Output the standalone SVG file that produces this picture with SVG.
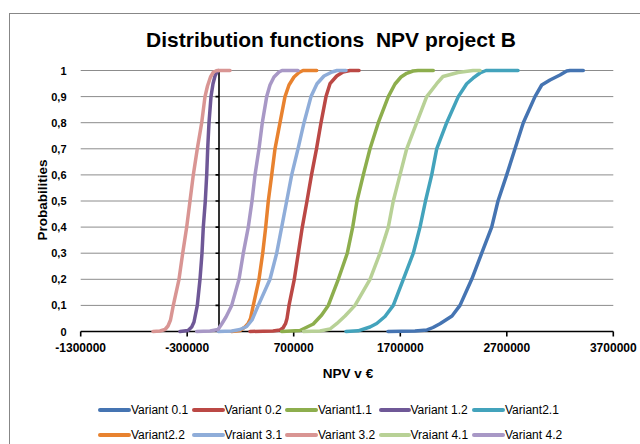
<svg xmlns="http://www.w3.org/2000/svg" width="640" height="444" viewBox="0 0 640 444">
<style>
.frame{fill:#fff;stroke:#878787;stroke-width:1}
.grid{stroke:#8c8c8c;stroke-width:1;fill:none}
.axis{stroke:#000;stroke-width:1.6;fill:none}
.s{fill:none;stroke-width:3.5;stroke-linejoin:round;stroke-linecap:round}
.lg{fill:none;stroke-width:4;stroke-linecap:round}
.t{font-family:"Liberation Sans",Arial,sans-serif;fill:#000}
.b{font-weight:bold}
.yl{font-size:11px;text-anchor:end;font-weight:bold}
.xl{font-size:12px;text-anchor:middle;font-weight:bold}
.lt{font-size:12px}
.c01{stroke:#4574B2}.c02{stroke:#BB4845}.c11{stroke:#8DAE4D}.c12{stroke:#6F5897}.c21{stroke:#43A3BC}
.c22{stroke:#E8822F}.c31{stroke:#8FADD9}.c32{stroke:#D99593}.c41{stroke:#B8D196}.c42{stroke:#A898C6}
</style>
<rect class="frame" x="9.5" y="13.5" width="640" height="440"/>
<text class="t b" x="331" y="47" font-size="21" text-anchor="middle" xml:space="preserve">Distribution functions  NPV project B</text>
<g id="gridlines">
<path class="grid" d="M80.7 70.5H613.3M80.7 96.6H613.3M80.7 122.7H613.3M80.7 148.8H613.3M80.7 174.9H613.3M80.7 201H613.3M80.7 227.1H613.3M80.7 253.2H613.3M80.7 279.3H613.3M80.7 305.4H613.3"/>
</g>
<g id="axes">
<path class="axis" d="M219 70.5V331.5M80.7 331.5H613.3"/>
<path class="axis" stroke-width="1.2" d="M215.5 70.5H219M215.5 96.6H219M215.5 122.7H219M215.5 148.8H219M215.5 174.9H219M215.5 201H219M215.5 227.1H219M215.5 253.2H219M215.5 279.3H219M215.5 305.4H219M80.7 331.5V336.5M187.2 331.5V336.5M293.7 331.5V336.5M400.3 331.5V336.5M506.8 331.5V336.5M613.3 331.5V336.5"/>
</g>
<g id="y-labels" class="t yl">
<text x="66.5" y="74.5">1</text>
<text x="66.5" y="100.6">0,9</text>
<text x="66.5" y="126.7">0,8</text>
<text x="66.5" y="152.8">0,7</text>
<text x="66.5" y="178.9">0,6</text>
<text x="66.5" y="205">0,5</text>
<text x="66.5" y="231.1">0,4</text>
<text x="66.5" y="257.2">0,3</text>
<text x="66.5" y="283.3">0,2</text>
<text x="66.5" y="309.4">0,1</text>
<text x="66.5" y="335.5">0</text>
</g>
<g id="x-labels" class="t xl">
<text x="80.7" y="352">-1300000</text>
<text x="187.2" y="352">-300000</text>
<text x="293.7" y="352">700000</text>
<text x="400.3" y="352">1700000</text>
<text x="506.8" y="352">2700000</text>
<text x="613.3" y="352">3700000</text>
</g>
<text class="t b" x="46.5" y="200" font-size="13.5" text-anchor="middle" transform="rotate(-90 46.5 200)">Probabilities</text>
<text class="t b" x="348" y="377.5" font-size="13.5" text-anchor="middle">NPV v €</text>
<g id="series">
<polyline id="v01" class="s c01" points="388,331.5 415,331 427,329.9 433,327.5 440,323.7 452,316 460,305.4 471.7,279.3 481.7,253.2 491.7,227.1 498,201 506.7,174.9 515,148.8 523.3,122.7 535,96.6 541.7,85 550,80 560,75 566.7,71 570,70.5 583.3,70.5"/>
<polyline id="v02" class="s c02" points="250,331.5 273,331 280,330 283,328 285.5,323.7 287,318.5 289,305.4 294.3,279.3 298.3,253.2 302.3,227.1 307,201 311.5,174.9 316.5,148.8 321,122.7 326,96.6 330,83.7 336.7,76 343,72 350,70.5 359,70.5"/>
<polyline id="v11" class="s c11" points="281.7,331.5 300,330.5 313.3,324 321.7,315 328.3,305.4 338.3,279.3 347.3,253.2 352.7,227.1 357,201 363.3,174.9 370,148.8 378.3,122.7 388.3,96.6 395,84 401,77 406.7,73.3 413,71 418,70.5 433.3,70.5"/>
<polyline id="v12" class="s c12" points="180,331.5 188,330.5 191.7,327 194,322 197.3,305.4 200,279.3 202,253.2 203.3,227.1 205.3,201 206.7,174.9 207.7,148.8 209,122.7 211,96.6 213,83.7 215,76 217,72 218.5,70.5"/>
<polyline id="v21" class="s c21" points="346,331.5 358,330.8 370,327 376.7,323.5 385,316.5 393.3,305.4 403.3,279.3 413.3,253.2 420,227.1 425.5,201 431.7,174.9 436.7,148.8 446.7,122.7 458.3,96.6 466.7,83.7 473,78.2 480,73 486,70.5 518,70.5"/>
<polyline id="v22" class="s c22" points="231.7,331.5 240,330.5 245,327 248,323.7 250.5,318.5 253.3,305.4 259,279.3 262.7,253.2 265.7,227.1 268.3,201 271.7,174.9 275,148.8 280,122.7 285,96.6 289,85 294,77 299,72.5 303,70.5 316.7,70.5"/>
<polyline id="v31" class="s c31" points="218.3,331.5 232,331 240,329.5 246.7,326.5 252,320 258.3,305.4 270,279.3 276.7,253.2 281.7,227.1 286.7,201 291.7,174.9 298,148.8 304,122.7 311,96.6 317,83.7 324,76 332,72 337,70.5 346,70.5"/>
<polyline id="v32" class="s c32" points="153,331.5 160,331 165,329.5 168,326 170.5,320 173.3,305.4 179,279.3 182.7,253.2 186.7,227.1 190,201 193.3,174.9 197.3,148.8 201.7,122.7 205,96.6 207.5,86 210.5,77 213.5,72 217,70.5 230,70.5"/>
<polyline id="v41" class="s c41" points="303.3,331.5 320,331 330,329 336.7,323.7 345,316 355,305.4 370,279.3 380,253.2 388.3,227.1 393.3,201 400,174.9 406.7,148.8 416.7,122.7 426.7,96.6 436.7,83.7 443,76.5 458,72.5 473,70.5 480,70.5"/>
<polyline id="v42" class="s c42" points="196.7,331.5 210,331 218,329.5 221.7,324 226,317 231.7,305.4 239,279.3 243.3,253.2 248.3,227.1 252,201 255,174.9 259,148.8 262.3,122.7 266.7,96.6 270,85 274,77 279,72 282,70.5 298,70.5"/>
</g>
<g id="legend">
<path class="lg c01" d="M100 410H129"/><text class="t lt" x="131" y="414">Variant 0.1</text>
<path class="lg c02" d="M194 410H223"/><text class="t lt" x="224.5" y="414">Variant 0.2</text>
<path class="lg c11" d="M287 410H316"/><text class="t lt" x="318" y="414">Variant1.1</text>
<path class="lg c12" d="M381 410H409"/><text class="t lt" x="410.5" y="414">Variant 1.2</text>
<path class="lg c21" d="M474 410H503"/><text class="t lt" x="505" y="414">Variant2.1</text>
<path class="lg c22" d="M100 435H129"/><text class="t lt" x="131" y="439">Variant2.2</text>
<path class="lg c31" d="M194 435H223"/><text class="t lt" x="224.5" y="439">Vraiant 3.1</text>
<path class="lg c32" d="M287 435H316"/><text class="t lt" x="318" y="439">Variant 3.2</text>
<path class="lg c41" d="M381 435H409"/><text class="t lt" x="410.5" y="439">Vraiant 4.1</text>
<path class="lg c42" d="M474 435H503"/><text class="t lt" x="505" y="439">Variant 4.2</text>
</g>
</svg>
